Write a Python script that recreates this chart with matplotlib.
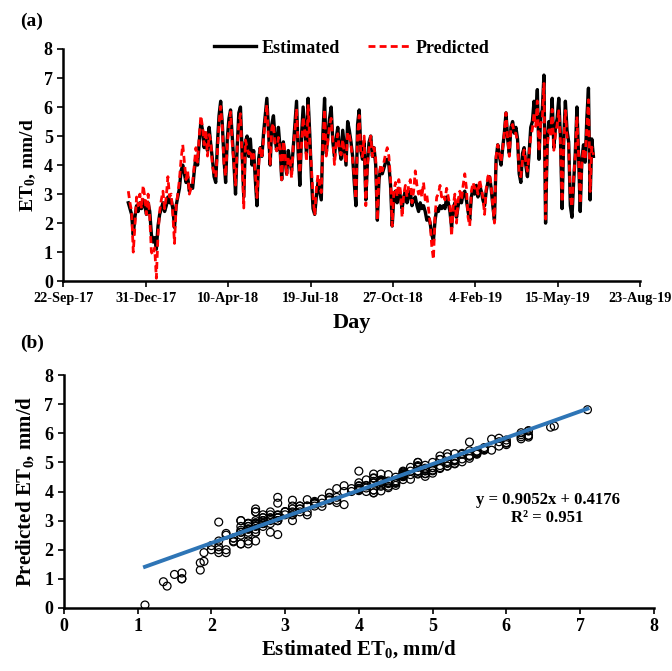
import numpy as np
import pandas as pd
import matplotlib
matplotlib.use('Agg')
import matplotlib.pyplot as plt
import matplotlib.dates as mdates
from matplotlib.ticker import FuncFormatter

# 数据：每2天一个读数
start_date = '2017-12-10'
step_days = 2

estimated = [
    # Dec 2017 - Mar 2018
    2.7, 2.5, 2.3, 1.6, 2.2, 2.6, 2.4, 2.7, 2.5, 2.8, 2.6, 2.3, 2.7, 2.4, 1.6, 1.35,
    1.5, 1.1, 1.9, 2.3, 2.5, 2.7, 2.4, 2.6, 2.9, 2.7, 2.8, 2.5, 1.85, 2.6, 2.9, 3.2,
    3.8, 4.0, 3.7, 3.4, 3.6, 3.1, 3.3, 3.2, 3.8, 4.3, 4.0, 4.8, 5.5, 5.2, 4.6,
    # Mar - Jun 2018
    5.1, 4.5, 5.3, 4.7, 4.2, 3.6, 3.4, 4.7, 5.7, 6.2, 5.4, 4.2, 3.4, 4.9, 5.6, 5.9,
    5.0, 4.1, 3.0, 4.6, 5.8, 6.0, 4.5, 2.9, 4.8, 5.0, 4.3, 4.9, 4.0, 4.5, 3.5, 2.6,
    4.2, 4.6, 4.3, 5.1, 5.7, 6.3, 5.2, 4.0, 5.4, 5.7, 4.9, 4.5, 5.3, 4.6, 3.5, 4.8,
    # Jun - Sep 2018
    4.2, 3.7, 4.5, 4.1, 3.8, 4.6, 5.4, 6.2, 4.4, 3.3, 5.0, 6.0, 5.2, 4.4, 6.3, 5.1,
    3.6, 2.5, 2.3, 2.9, 3.4, 3.1, 2.8, 5.1, 6.3, 4.4, 5.0, 5.6, 6.0, 4.8, 4.3, 4.9,
    5.3, 4.6, 4.2, 5.2, 4.6, 4.0, 5.5, 5.2, 4.8, 4.3, 3.4, 2.6, 5.4, 5.9, 4.5, 4.2,
    # Sep - Dec 2018
    4.8, 2.8, 4.1, 4.8, 5.0, 4.3, 4.6, 4.0, 2.1, 3.5, 3.9, 3.7, 3.9, 4.1, 4.2, 4.0,
    3.3, 1.9, 2.9, 3.1, 2.7, 3.2, 2.9, 2.5, 2.9, 3.1, 2.7, 3.0, 3.1, 2.6, 2.8, 2.9,
    2.6, 2.4, 2.7, 2.5, 2.6, 2.4, 2.1, 2.2, 2.0, 1.6, 1.4, 2.1, 2.5, 2.4, 2.6, 2.5,
    # Dec 2018 - Mar 2019
    2.6, 2.5, 2.9, 2.7, 2.4, 1.85, 2.5, 2.7, 2.2, 2.6, 2.9, 2.7, 3.0, 3.1, 2.8, 2.4,
    2.1, 2.9, 3.2, 3.0, 3.3, 2.9, 3.3, 3.1, 2.8, 2.6, 3.1, 3.4, 3.6, 3.2, 2.6, 2.1,
    4.2, 4.7, 4.3, 4.0, 4.6, 5.1, 5.8, 4.9, 4.4, 5.3, 5.5, 5.1, 5.3, 4.9, 3.7, 3.4,
    # Mar - Jun 2019
    4.4, 4.6, 4.0, 3.6, 4.4, 5.3, 5.5, 6.2, 5.6, 6.6, 4.2, 5.7, 5.9, 7.1, 2.0, 4.8,
    5.5, 5.2, 6.3, 4.6, 5.3, 5.6, 6.3, 5.0, 2.5, 4.9, 6.2, 5.2, 4.8, 2.6, 2.2, 3.4,
    4.4, 6.0, 4.3, 2.4, 4.2, 4.7, 4.1, 5.6, 6.65, 2.8, 4.9, 4.3,
]

predicted = [
    # Dec 2017 - Mar 2018
    3.1, 2.7, 2.4, 1.0, 1.9, 2.9, 2.6, 3.0, 2.5, 3.3, 2.9, 2.3, 3.0, 2.2, 1.0, 0.9,
    1.15, 0.1, 1.6, 2.4, 2.8, 3.1, 2.5, 2.9, 3.6, 2.9, 3.0, 2.3, 1.3, 2.6, 3.0, 3.5,
    4.2, 4.7, 4.1, 3.5, 3.8, 3.0, 3.2, 3.4, 4.0, 4.6, 4.1, 5.0, 5.7, 5.3, 4.7,
    # Mar - Jun 2018
    5.22, 4.31, 5.05, 4.83, 3.96, 3.71, 3.58, 4.42, 5.47, 6.02, 5.31, 4.05, 3.62, 4.71, 5.28, 5.83,
    4.74, 4.12, 3.31, 4.58, 5.42, 5.77, 4.21, 2.52, 4.86, 4.63, 4.39, 4.52, 4.18, 4.37, 3.74, 2.88,
    3.95, 4.64, 4.22, 4.89, 5.51, 6.08, 4.87, 4.03, 5.28, 5.44, 4.61, 4.49, 4.95, 4.55, 3.49, 4.83,
    # Jun - Sep 2018
    4.45, 3.62, 4.28, 4.21, 3.55, 4.67, 5.12, 5.95, 4.58, 3.72, 4.71, 5.66, 5.19, 4.13, 6.09, 4.82,
    3.95, 2.91, 2.27, 3.18, 3.66, 3.27, 3.05, 4.79, 5.93, 4.31, 4.82, 5.37, 5.61, 4.89, 4.02, 4.71,
    5.08, 4.52, 4.35, 4.88, 4.41, 4.06, 5.14, 5.03, 4.69, 4.18, 3.61, 2.83, 5.02, 5.71, 4.33, 4.29,
    # Sep - Dec 2018
    5.0, 2.6, 4.0, 4.6, 5.0, 4.3, 4.6, 4.2, 2.1, 3.6, 4.0, 3.8, 4.1, 4.4, 4.6, 4.3,
    3.5, 1.9, 3.1, 3.4, 2.9, 3.5, 3.1, 2.2, 3.0, 3.3, 2.9, 3.3, 3.5, 2.7, 3.1, 3.8,
    3.3, 3.0, 3.2, 2.9, 3.4, 2.8, 2.95, 2.5, 2.0, 1.2, 0.75, 2.3, 2.9, 3.0, 3.3, 2.9,
    # Dec 2018 - Mar 2019
    3.0, 2.8, 3.2, 2.9, 2.6, 1.55, 2.6, 3.0, 2.0, 2.8, 3.1, 2.8, 3.3, 3.7, 3.2, 2.2,
    1.9, 3.1, 3.4, 3.2, 3.3, 3.0, 3.5, 3.2, 2.9, 2.3, 3.2, 3.6, 3.7, 3.3, 2.6, 2.0,
    4.3, 4.7, 4.4, 4.1, 4.6, 5.1, 5.8, 4.9, 4.3, 5.3, 5.4, 5.1, 5.1, 4.8, 3.7, 3.6,
    # Mar - Jun 2019
    4.18, 4.52, 4.11, 3.79, 4.36, 4.97, 5.24, 5.81, 5.33, 6.21, 4.47, 5.42, 5.56, 6.81, 2.14, 4.63,
    5.21, 4.98, 5.92, 4.51, 5.06, 5.39, 5.87, 4.82, 2.72, 4.76, 5.88, 4.97, 4.71, 2.93, 2.56, 3.58,
    4.27, 5.68, 4.32, 2.67, 4.05, 4.58, 4.19, 5.31, 6.25, 3.09, 4.62, 4.35,
]

# 拟合结果（图中给出）
slope = 0.9052
intercept = 0.4176
r2 = 0.951

dates = pd.date_range(start_date, periods=len(estimated), freq=f'{step_days}D')
x_start = pd.Timestamp('2017-09-22')
x_end = pd.Timestamp('2019-08-23')
date_ticks = pd.date_range(x_start, x_end, freq='100D')

plt.rcParams['font.family'] = ['Liberation Serif', 'DejaVu Serif']
plt.rcParams['font.weight'] = 'bold'
plt.rcParams['mathtext.fontset'] = 'custom'
plt.rcParams['mathtext.rm'] = 'Liberation Serif:bold'
plt.rcParams['mathtext.it'] = 'Liberation Serif:bold'
plt.rcParams['mathtext.bf'] = 'Liberation Serif:bold'

fig = plt.figure(figsize=(6.72, 6.71), dpi=100)

# (a) 时间序列
ax1 = fig.add_axes([0.094, 0.581, 0.859, 0.346])
ax1.plot(dates, estimated, color='black', lw=2.4, label='Estimated')
ax1.plot(dates, predicted, color='red', lw=2.0, ls=(0, (2.5, 1.5)), label='Predicted')
ax1.set_xlim(x_start, x_end)
ax1.set_ylim(0, 8)
ax1.set_xticks(date_ticks)
ax1.xaxis.set_major_formatter(FuncFormatter(
    lambda v, p: (lambda d: f"{d.day}-{d.strftime('%b-%y')}")(mdates.num2date(v))))
ax1.set_yticks(range(0, 9))
ax1.tick_params(axis='x', labelsize=10.3, direction='out', length=4, width=1.2)
ax1.tick_params(axis='y', labelsize=13, direction='out', length=4, width=1.2)
ax1.set_xlabel('Day', fontsize=16, fontweight='bold', labelpad=6)
ax1.set_ylabel('ET$_0$, mm/d', fontsize=14, fontweight='bold', labelpad=4)
for s in ['top', 'right']:
    ax1.spines[s].set_visible(False)
for s in ['left', 'bottom']:
    ax1.spines[s].set_linewidth(1.8)
ax1.legend(loc='upper center', bbox_to_anchor=(0.5, 1.11), ncol=2, frameon=False,
           fontsize=13, handlelength=2.3, columnspacing=1.6, handletextpad=0.3)
fig.text(0.03, 0.968, '(a)', fontsize=14, fontweight='bold', va='center')

# (b) 散点图
ax2 = fig.add_axes([0.095, 0.094, 0.878, 0.347])
ax2.scatter(estimated, predicted, s=32, facecolors='none', edgecolors='black', linewidths=0.9, zorder=2)
fit_x = np.array([min(estimated), max(estimated)])
ax2.plot(fit_x, slope * fit_x + intercept, color='#2E75B6', lw=2.8, zorder=3)
ax2.set_xlim(0, 8)
ax2.set_ylim(0, 8)
ax2.set_xticks(range(0, 9))
ax2.set_yticks(range(0, 9))
ax2.tick_params(labelsize=13, direction='out', length=4, width=1.2)
ax2.set_xlabel('Estimated ET$_0$, mm/d', fontsize=15, fontweight='bold', labelpad=2)
ax2.set_ylabel('Predicted ET$_0$, mm/d', fontsize=15, fontweight='bold', labelpad=6)
for s in ['top', 'right']:
    ax2.spines[s].set_visible(False)
for s in ['left', 'bottom']:
    ax2.spines[s].set_linewidth(1.8)
ax2.text(6.56, 3.4, f'y = {slope}x + {intercept}\nR² = {r2}', fontsize=12, fontweight='bold',
         ha='center', va='center', linespacing=1.1)
fig.text(0.03, 0.489, '(b)', fontsize=14, fontweight='bold', va='center')

fig.savefig('out.png', dpi=100)
